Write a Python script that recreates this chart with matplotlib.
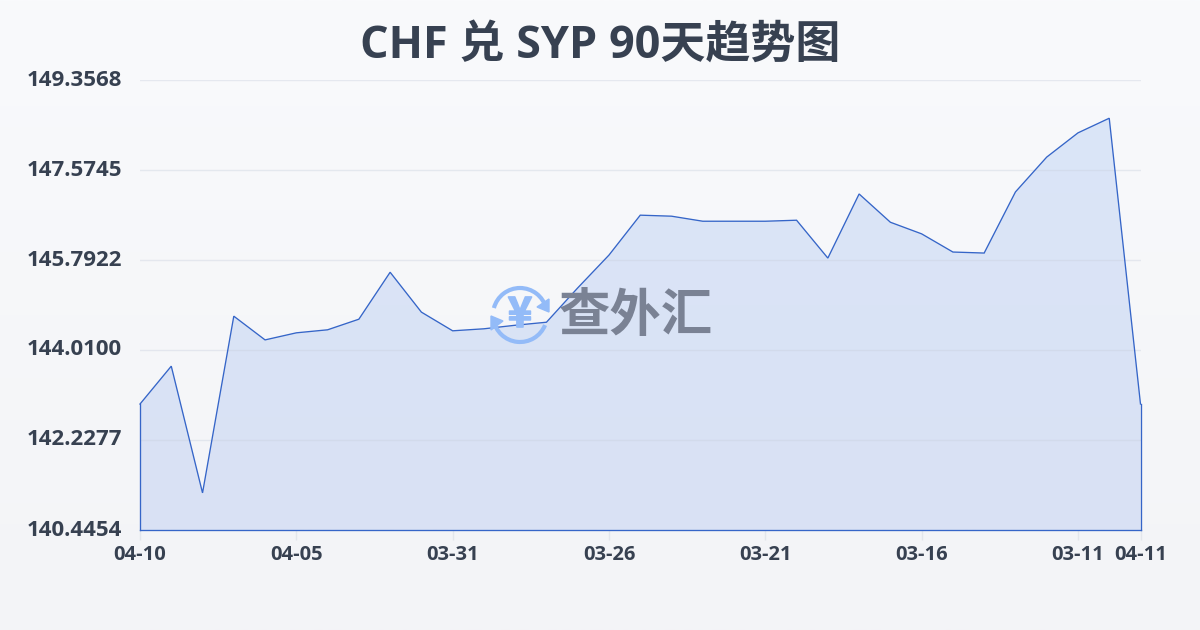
# -*- coding: utf-8 -*-
import numpy as np
import matplotlib
matplotlib.use("Agg")
import matplotlib.pyplot as plt
import matplotlib.patheffects as pe
from matplotlib.patches import Arc, Polygon

plt.rcParams['font.family'] = ['Open Sans', 'Noto Sans CJK SC', 'DejaVu Sans']

# valeurs
rates = [142.94, 143.69, 141.18, 144.68, 144.21, 144.35, 144.41, 144.62, 145.55,
         144.76, 144.39, 144.43, 144.50, 144.56, 145.24, 145.89, 146.68, 146.66,
         146.56, 146.56, 146.56, 146.58, 145.83, 147.10, 146.54, 146.31, 145.95,
         145.93, 147.14, 147.83, 148.31, 148.60, 142.94]
tick_pos = [0, 5, 10, 15, 20, 25, 30, 32]
tick_labels = ['04-10', '04-05', '03-31', '03-26', '03-21', '03-16', '03-11', '04-11']
y_ticks = [140.4454, 142.2277, 144.0100, 145.7922, 147.5745, 149.3568]
y_labels = ['140.4454', '142.2277', '144.0100', '145.7922', '147.5745', '149.3568']
title = 'CHF 兑 SYP 90天趋势图'
logo_text = '查外汇'

W, H = 1200, 630
TEXT = '#374151'
LINE = '#3565c8'

fig = plt.figure(figsize=(W / 100, H / 100), dpi=100)

# fond en degrade
bg = fig.add_axes([0, 0, 1, 1], zorder=0)
top = np.array([0xf9, 0xfa, 0xfc]) / 255
bot = np.array([0xf3, 0xf4, 0xf7]) / 255
t = np.linspace(0, 1, 256)[:, None, None]
bg.imshow(top + (bot - top) * t, aspect='auto', extent=[0, W, H, 0])
bg.set_xlim(0, W)
bg.set_ylim(H, 0)
bg.axis('off')

# zone du graphique
ax = fig.add_axes([140 / W, 1 - 530 / H, 1000.5 / W, 450 / H], zorder=2)
ax.patch.set_alpha(0)
x = np.arange(len(rates))
ax.set_xlim(0, len(rates) - 1)
ax.set_ylim(y_ticks[0], y_ticks[-1])

# remplissage avec degrade vertical, coupe par le polygone de la courbe
poly = ax.fill_between(x, rates, y_ticks[0], color='none')
c_top = np.array([0xdb, 0xe6, 0xf8]) / 255
c_bot = np.array([0xd9, 0xe1, 0xf4]) / 255
grad = ax.imshow(c_top + (c_bot - c_top) * t, aspect='auto', zorder=1,
                 extent=[0, len(rates) - 1, y_ticks[0], y_ticks[-1]])
grad.set_clip_path(poly.get_paths()[0], transform=ax.transData)

for v in y_ticks[1:]:
    ax.axhline(v, color='#c9d0de', alpha=0.4, lw=1, zorder=2)

ax.plot(x, rates, color=LINE, lw=0.95, zorder=3, solid_joinstyle='miter', clip_on=False)
ax.plot([0, 0], [y_ticks[0], rates[0]], color=LINE, lw=0.95, zorder=3, clip_on=False)
ax.plot([x[-1], x[-1]], [y_ticks[0], rates[-1]], color=LINE, lw=0.95, zorder=3, clip_on=False)
ax.plot([0, x[-1]], [y_ticks[0], y_ticks[0]], color=LINE, lw=0.95, zorder=3, clip_on=False)

for s in ax.spines.values():
    s.set_visible(False)
ax.set_xticks(tick_pos)
ax.set_xticklabels(tick_labels, fontsize=14.5, fontweight='bold', color=TEXT)
ax.set_yticks(y_ticks)
ax.set_yticklabels(y_labels, fontsize=16, fontweight='bold', color=TEXT, va='center')
ax.tick_params(axis='x', length=7, width=1, color='#e3e6ec', pad=3.5)
ax.tick_params(axis='y', length=0, pad=13)

fig.text(600 / W, 1 - 46 / H, title, fontsize=32.4, fontweight='bold', color=TEXT,
         ha='center', va='center')

# logo (coordonnees en pixels)
lg = fig.add_axes([0, 0, 1, 1], zorder=3)
lg.set_xlim(0, W)
lg.set_ylim(H, 0)
lg.axis('off')
BLUE = '#93bbf8'
cx, cy = 520, 315
lg.add_patch(Arc((cx, cy), 54, 54, theta1=22, theta2=170, lw=3, color=BLUE, zorder=1))
lg.add_patch(Arc((cx, cy), 54, 54, theta1=195, theta2=345, lw=3, color=BLUE, zorder=1))
lg.add_patch(Polygon([[537, 307], [549, 299], [549, 312]], color=BLUE))
lg.add_patch(Polygon([[491, 316], [503, 321], [491, 330]], color=BLUE))
yen = lg.text(cx, cy, '¥', fontsize=30, fontweight='bold', color=BLUE, ha='center', va='center',
              family=['Noto Sans CJK SC'])
yen.set_path_effects([pe.withStroke(linewidth=1.2, foreground=BLUE)])
lg.text(636, 316, logo_text, fontsize=37, fontweight='bold', color='#7a8294',
        ha='center', va='center', family=['Noto Sans CJK SC'])

fig.savefig('out.png', dpi=100)
